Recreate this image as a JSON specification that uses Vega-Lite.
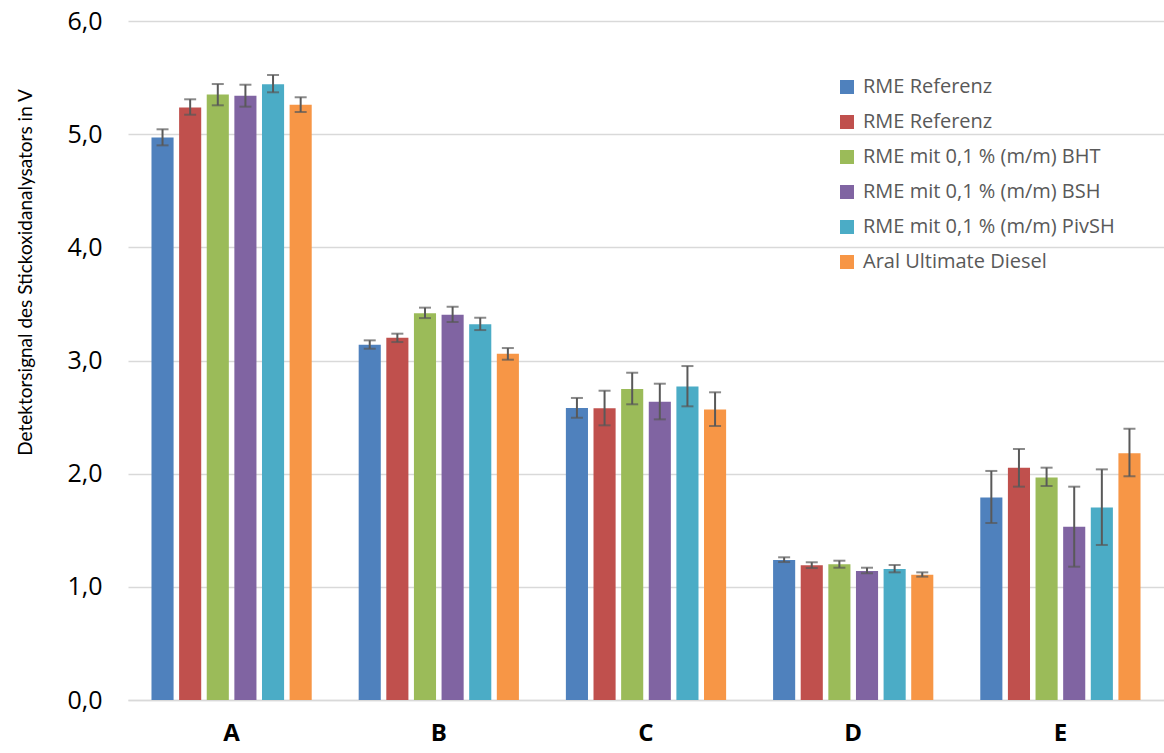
{
  "$schema": "https://vega.github.io/schema/vega-lite/v6.json",
  "autosize": "none",
  "width": 1036,
  "height": 679,
  "padding": {"left": 128, "top": 21, "right": 0, "bottom": 53},
  "background": "white",
  "config": {"view": {"stroke": null}, "font": "Open Sans"},
  "data": {
    "values": [
      {"cat": "A", "s": "s1", "v": 4.97, "lo": 4.901, "hi": 5.043},
      {"cat": "A", "s": "s2", "v": 5.235, "lo": 5.172, "hi": 5.308},
      {"cat": "A", "s": "s3", "v": 5.35, "lo": 5.255, "hi": 5.443},
      {"cat": "A", "s": "s4", "v": 5.34, "lo": 5.243, "hi": 5.437},
      {"cat": "A", "s": "s5", "v": 5.44, "lo": 5.37, "hi": 5.523},
      {"cat": "A", "s": "s6", "v": 5.26, "lo": 5.196, "hi": 5.326},
      {"cat": "B", "s": "s1", "v": 3.14, "lo": 3.104, "hi": 3.178},
      {"cat": "B", "s": "s2", "v": 3.2, "lo": 3.163, "hi": 3.237},
      {"cat": "B", "s": "s3", "v": 3.417, "lo": 3.375, "hi": 3.467},
      {"cat": "B", "s": "s4", "v": 3.405, "lo": 3.34, "hi": 3.475},
      {"cat": "B", "s": "s5", "v": 3.32, "lo": 3.269, "hi": 3.378},
      {"cat": "B", "s": "s6", "v": 3.06, "lo": 3.007, "hi": 3.11},
      {"cat": "C", "s": "s1", "v": 2.58, "lo": 2.494, "hi": 2.669},
      {"cat": "C", "s": "s2", "v": 2.577, "lo": 2.427, "hi": 2.733},
      {"cat": "C", "s": "s3", "v": 2.748, "lo": 2.613, "hi": 2.892},
      {"cat": "C", "s": "s4", "v": 2.636, "lo": 2.48, "hi": 2.795},
      {"cat": "C", "s": "s5", "v": 2.77, "lo": 2.595, "hi": 2.951},
      {"cat": "C", "s": "s6", "v": 2.567, "lo": 2.421, "hi": 2.719},
      {"cat": "D", "s": "s1", "v": 1.237, "lo": 1.219, "hi": 1.261},
      {"cat": "D", "s": "s2", "v": 1.19, "lo": 1.166, "hi": 1.217},
      {"cat": "D", "s": "s3", "v": 1.2, "lo": 1.169, "hi": 1.231},
      {"cat": "D", "s": "s4", "v": 1.14, "lo": 1.12, "hi": 1.169},
      {"cat": "D", "s": "s5", "v": 1.158, "lo": 1.128, "hi": 1.193},
      {"cat": "D", "s": "s6", "v": 1.107, "lo": 1.09, "hi": 1.128},
      {"cat": "E", "s": "s1", "v": 1.79, "lo": 1.564, "hi": 2.024},
      {"cat": "E", "s": "s2", "v": 2.053, "lo": 1.885, "hi": 2.218},
      {"cat": "E", "s": "s3", "v": 1.967, "lo": 1.891, "hi": 2.053},
      {"cat": "E", "s": "s4", "v": 1.531, "lo": 1.178, "hi": 1.885},
      {"cat": "E", "s": "s5", "v": 1.7, "lo": 1.37, "hi": 2.038},
      {"cat": "E", "s": "s6", "v": 2.18, "lo": 1.977, "hi": 2.397}
    ]
  },
  "encoding": {
    "x": {
      "field": "cat", "type": "nominal",
      "scale": {"paddingInner": 0.2, "paddingOuter": 0.1},
      "axis": {
        "title": null, "labelAngle": 0, "labelFontSize": 24, "labelFontWeight": "bold",
        "labelColor": "#000000", "labelPadding": 21, "ticks": false,
        "domainColor": "#d9d9d9", "domainWidth": 1.5
      }
    },
    "xOffset": {
      "field": "s", "type": "nominal",
      "scale": {"paddingInner": 0.2, "paddingOuter": 0.1}
    }
  },
  "layer": [
    {
      "mark": {"type": "bar"},
      "encoding": {
        "y": {
          "field": "v", "type": "quantitative",
          "scale": {"domain": [0, 6], "nice": false},
          "axis": {
            "values": [0, 1, 2, 3, 4, 5, 6],
            "labelExpr": "replace(format(datum.value, '.1f'), '.', ',')",
            "labelFontSize": 25, "labelColor": "#000000", "labelPadding": 26,
            "ticks": false, "domain": false,
            "gridColor": "#d9d9d9", "gridWidth": 1.5,
            "title": "Detektorsignal des Stickoxidanalysators in V",
            "titleFont": "Lato",
            "titleFontSize": 19, "titleFontWeight": "normal", "titleColor": "#000000",
            "titleAngle": 270, "titleX": -103, "titleY": 251,
            "titleAlign": "center", "titleBaseline": "middle"
          }
        },
        "color": {
          "field": "s", "type": "nominal",
          "scale": {
            "domain": ["s1", "s2", "s3", "s4", "s5", "s6"],
            "range": ["#4F81BD", "#C0504D", "#9BBB59", "#8064A2", "#4BACC6", "#F79646"]
          },
          "legend": {
            "title": null, "orient": "none", "legendX": 709, "legendY": 56,
            "symbolType": "square", "symbolSize": 196, "symbolStrokeWidth": 0,
            "labelFontSize": 20, "labelColor": "#595959", "rowPadding": 15,
            "labelLimit": 400, "labelOffset": 6,
            "labelExpr": "{'s1': 'RME Referenz', 's2': 'RME Referenz', 's3': 'RME mit 0,1 % (m/m) BHT', 's4': 'RME mit 0,1 % (m/m) BSH', 's5': 'RME mit 0,1 % (m/m) PivSH', 's6': 'Aral Ultimate Diesel'}[datum.value]"
          }
        }
      }
    },
    {
      "mark": {"type": "rule", "color": "#595959", "strokeWidth": 2},
      "encoding": {
        "y": {"field": "lo", "type": "quantitative"},
        "y2": {"field": "hi"}
      }
    },
    {
      "mark": {"type": "tick", "color": "#595959", "size": 12, "thickness": 2},
      "encoding": {"y": {"field": "lo", "type": "quantitative"}}
    },
    {
      "mark": {"type": "tick", "color": "#595959", "size": 12, "thickness": 2},
      "encoding": {"y": {"field": "hi", "type": "quantitative"}}
    }
  ]
}
